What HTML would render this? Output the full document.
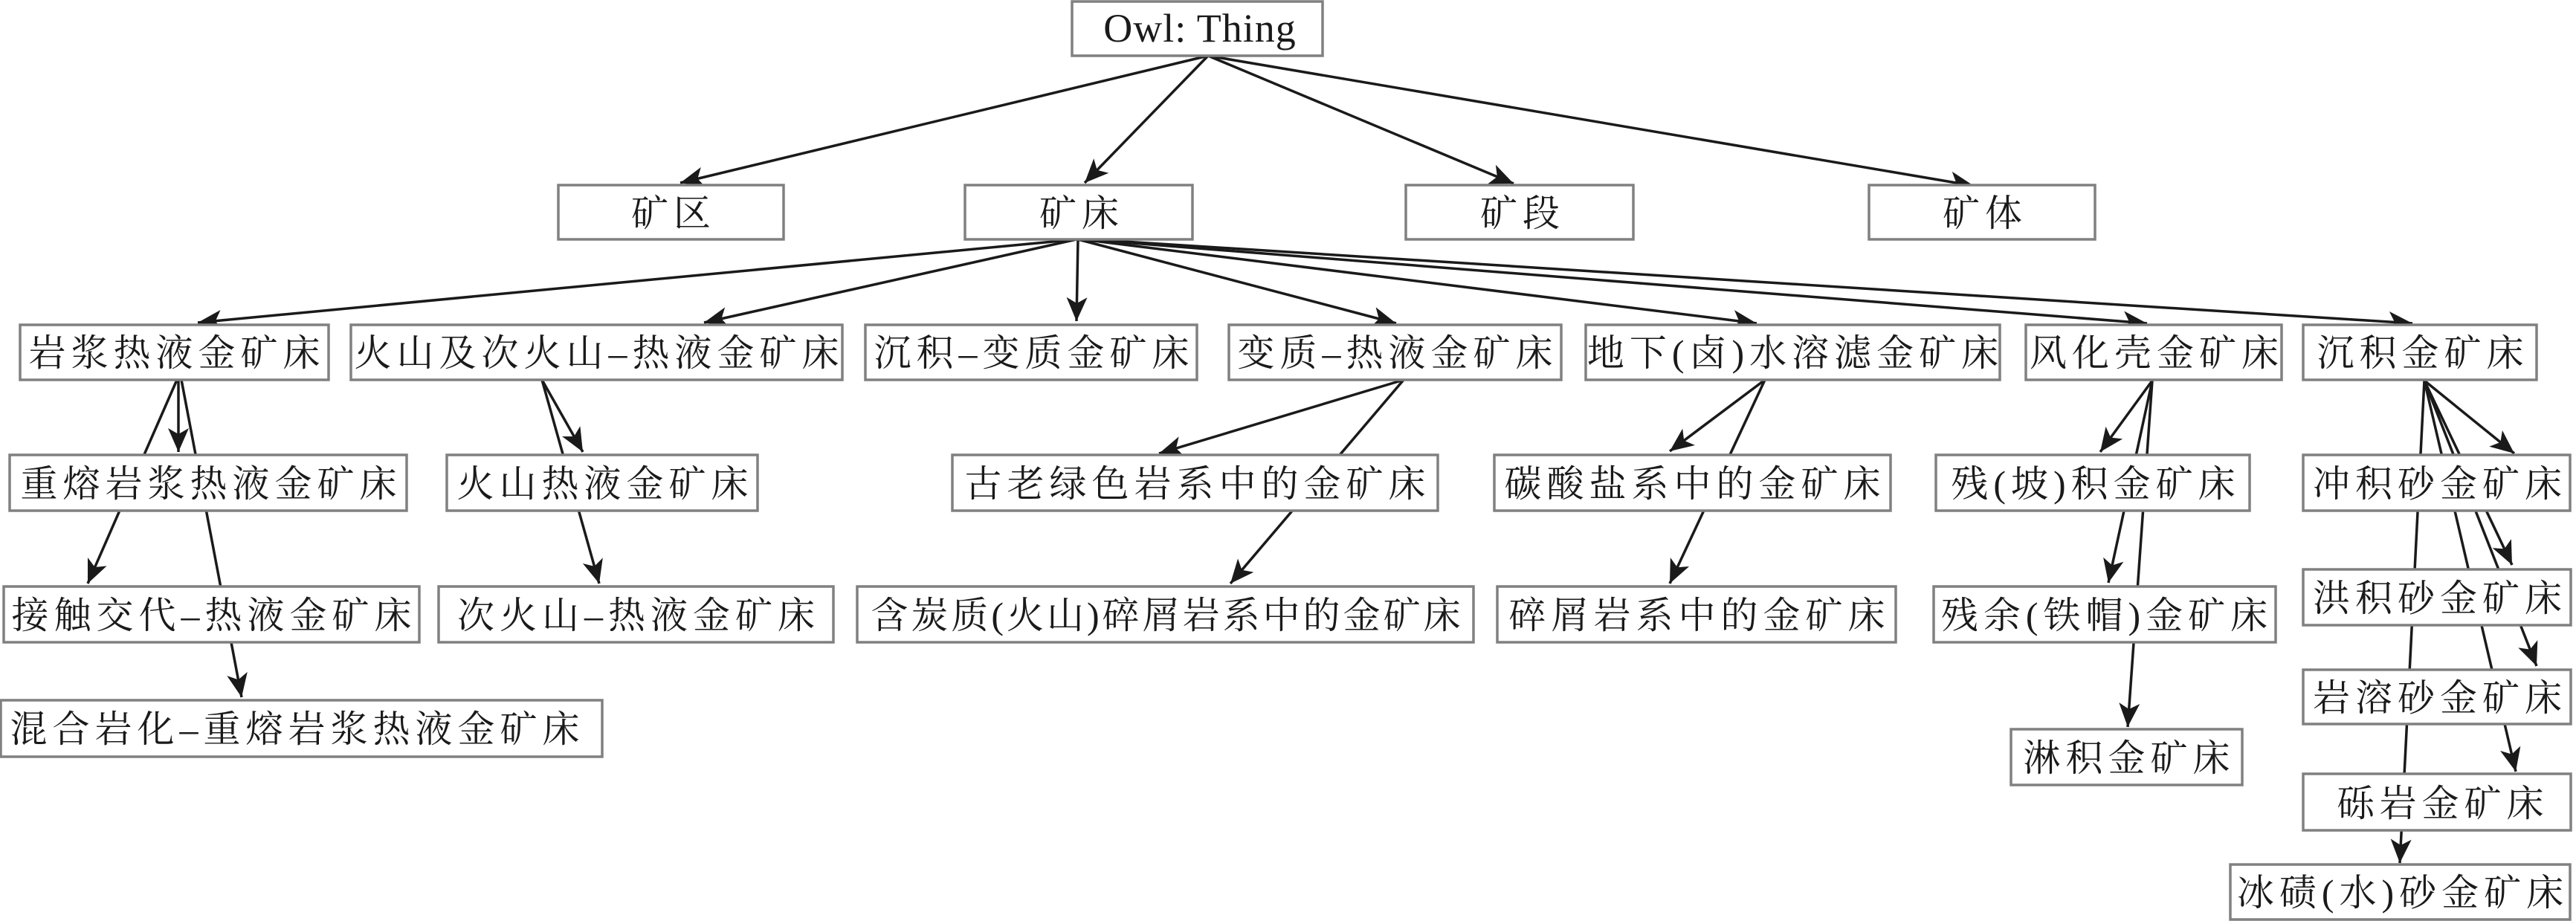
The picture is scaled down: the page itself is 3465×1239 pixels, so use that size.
<!DOCTYPE html>
<html><head><meta charset="utf-8"><style>
html,body{margin:0;padding:0;background:#fff;}
svg{display:block;}
text{font-family:"Liberation Serif","Noto Serif CJK SC",serif;font-size:50px;fill:#1a1a1a;letter-spacing:7px;}
</style></head><body>
<svg width="3465" height="1239" viewBox="0 0 3465 1239" xmlns="http://www.w3.org/2000/svg">
<defs>
<marker id="a" markerUnits="userSpaceOnUse" markerWidth="34" markerHeight="30" refX="32" refY="14" orient="auto">
<path d="M0,0 L32,14 L0,28 L8,14 z" fill="#1a1a1a"/>
</marker>
</defs>
<g stroke="#1a1a1a" stroke-width="3.5" fill="none" marker-end="url(#a)">
<line x1="1625" y1="75" x2="915" y2="246"/>
<line x1="1625" y1="75" x2="1459" y2="246"/>
<line x1="1625" y1="75" x2="2036" y2="247"/>
<line x1="1625" y1="75" x2="2655" y2="250"/>
<line x1="1448" y1="322" x2="266" y2="434"/>
<line x1="1448" y1="322" x2="947" y2="434"/>
<line x1="1450" y1="322" x2="1448" y2="432"/>
<line x1="1450" y1="322" x2="1878" y2="435"/>
<line x1="1455" y1="322" x2="2363" y2="435"/>
<line x1="1460" y1="322" x2="2888" y2="435"/>
<line x1="1465" y1="322" x2="3245" y2="435"/>
<line x1="240" y1="511" x2="240" y2="608"/>
<line x1="238" y1="511" x2="118" y2="785"/>
<line x1="244" y1="511" x2="325" y2="938"/>
<line x1="729" y1="511" x2="784" y2="608"/>
<line x1="729" y1="511" x2="806" y2="785"/>
<line x1="1888" y1="511" x2="1559" y2="610"/>
<line x1="1888" y1="511" x2="1655" y2="785"/>
<line x1="2374" y1="511" x2="2246" y2="607"/>
<line x1="2374" y1="511" x2="2246" y2="785"/>
<line x1="2895" y1="512" x2="2825" y2="608"/>
<line x1="2895" y1="512" x2="2836" y2="784"/>
<line x1="2895" y1="512" x2="2862" y2="978"/>
<line x1="3261" y1="512" x2="3382" y2="610"/>
<line x1="3261" y1="512" x2="3379" y2="760"/>
<line x1="3261" y1="512" x2="3412" y2="896"/>
<line x1="3261" y1="512" x2="3384" y2="1038"/>
<line x1="3261" y1="512" x2="3228" y2="1161"/>
</g>
<g fill="#fff" stroke="#808080" stroke-width="3.5">
<rect x="1442" y="2" width="337" height="73"/>
<rect x="751" y="249" width="303" height="73"/>
<rect x="1298" y="249" width="306" height="73"/>
<rect x="1891" y="249" width="306" height="73"/>
<rect x="2514" y="249" width="304" height="73"/>
<rect x="27" y="437" width="415" height="74"/>
<rect x="472" y="437" width="661" height="74"/>
<rect x="1164" y="437" width="446" height="74"/>
<rect x="1653" y="437" width="447" height="74"/>
<rect x="2133" y="437" width="557" height="74"/>
<rect x="2725" y="437" width="344" height="74"/>
<rect x="3098" y="437" width="314" height="74"/>
<rect x="13" y="612" width="534" height="75"/>
<rect x="601" y="612" width="418" height="75"/>
<rect x="1281" y="612" width="653" height="75"/>
<rect x="2010" y="612" width="533" height="75"/>
<rect x="2604" y="612" width="422" height="75"/>
<rect x="3098" y="612" width="359" height="75"/>
<rect x="5" y="789" width="559" height="75"/>
<rect x="590" y="789" width="531" height="75"/>
<rect x="1153" y="789" width="829" height="75"/>
<rect x="2014" y="789" width="536" height="75"/>
<rect x="2601" y="789" width="460" height="75"/>
<rect x="3098" y="766" width="360" height="75"/>
<rect x="3098" y="901" width="360" height="73"/>
<rect x="2705" y="981" width="311" height="75"/>
<rect x="3098" y="1041" width="360" height="76"/>
<rect x="1" y="942" width="809" height="76"/>
<rect x="3000" y="1163" width="457" height="74"/>
</g>
<g text-anchor="middle">
<text x="1614" y="56" style="letter-spacing:1px;font-size:54px">Owl: Thing</text>
<text x="906" y="304">矿区</text>
<text x="1455" y="304">矿床</text>
<text x="2048" y="304">矿段</text>
<text x="2670" y="304">矿体</text>
<text x="238" y="492">岩浆热液金矿床</text>
<text x="806" y="492">火山及次火山–热液金矿床</text>
<text x="1391" y="492">沉积–变质金矿床</text>
<text x="1880" y="492">变质–热液金矿床</text>
<text x="2415" y="492">地下(卤)水溶滤金矿床</text>
<text x="2901" y="492">风化壳金矿床</text>
<text x="3259" y="492">沉积金矿床</text>
<text x="284" y="668">重熔岩浆热液金矿床</text>
<text x="814" y="668">火山热液金矿床</text>
<text x="1611" y="668">古老绿色岩系中的金矿床</text>
<text x="2280" y="668">碳酸盐系中的金矿床</text>
<text x="2819" y="668">残(坡)积金矿床</text>
<text x="3282" y="668">冲积砂金矿床</text>
<text x="288" y="845">接触交代–热液金矿床</text>
<text x="859" y="845">次火山–热液金矿床</text>
<text x="1570" y="845" style="letter-spacing:4px">含炭质(火山)碎屑岩系中的金矿床</text>
<text x="2286" y="845">碎屑岩系中的金矿床</text>
<text x="2834" y="845">残余(铁帽)金矿床</text>
<text x="3282" y="822">洪积砂金矿床</text>
<text x="3282" y="956">岩溶砂金矿床</text>
<text x="2864" y="1037">淋积金矿床</text>
<text x="3286" y="1098">砾岩金矿床</text>
<text x="400" y="998">混合岩化–重熔岩浆热液金矿床</text>
<text x="3232" y="1218">冰碛(水)砂金矿床</text>
</g>
</svg>
</body></html>
